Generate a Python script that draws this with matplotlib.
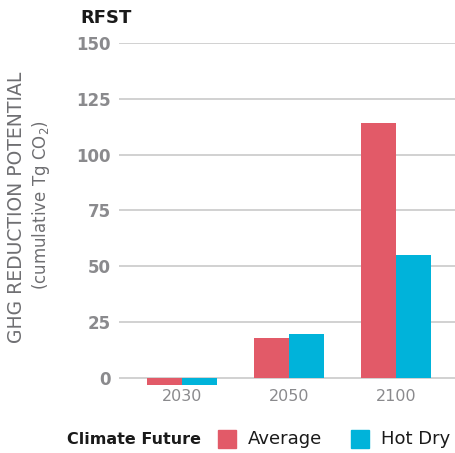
import matplotlib.pyplot as plt
import numpy as np
from matplotlib.patches import Rectangle

years = ["2030", "2050", "2100"]
average = [-3, 18, 114]
hot_dry = [-3, 19.5, 55]
yticks = [0, 25, 50, 75, 100, 125, 150]

red = "#E25A68"
cyan = "#00B3DA"
grey = "#8A8A8D"

fig = plt.figure(figsize=(4.56, 4.53), dpi=100)
ax = fig.add_axes([0.261, 0.141, 0.739, 0.764])

x = np.arange(len(years))
w = 0.33
ax.bar(x - w / 2, average, w, color=red, zorder=3)
ax.bar(x + w / 2, hot_dry, w, color=cyan, zorder=3)

ax.set_ylim(-5, 150)
ax.set_xlim(-0.59, 2.56)
ax.set_yticks(yticks)
ax.set_yticklabels([str(v) for v in yticks], color=grey, fontsize=12, fontweight="bold")
ax.set_xticks(x)
ax.set_xticklabels(years, color=grey, fontsize=11.5)
ax.tick_params(axis="both", length=0)
ax.tick_params(axis="y", pad=6)
ax.tick_params(axis="x", pad=0)
ax.grid(axis="y", color="#C9C9C9", linewidth=1.2, zorder=0)
for s in ax.spines.values():
    s.set_visible(False)

# title and axis label
fig.text(80 / 456, 1 - 18 / 453, "RFST", fontsize=13, fontweight="bold",
         color="#1a1a1a", va="center", ha="left")
fig.text(17 / 456, 1 - 207 / 453, "GHG REDUCTION POTENTIAL", rotation=90,
         fontsize=13.5, color="#6f6f72", va="center", ha="center")
fig.text(41 / 456, 1 - 205 / 453, "(cumulative Tg CO$_2$)", rotation=90,
         fontsize=12, color="#6f6f72", va="center", ha="center")

# legend at bottom
ly = 1 - 439 / 453
fig.text(67 / 456, ly, "Climate Future", fontsize=11.5, fontweight="bold",
         color="#1a1a1a", va="center", ha="left")
sq = 18 / 456
fig.patches.append(Rectangle((218 / 456, ly - 9 / 453), sq, 18 / 453,
                             color=red, transform=fig.transFigure))
fig.text(248 / 456, ly, "Average", fontsize=13, color="#1a1a1a", va="center", ha="left")
fig.patches.append(Rectangle((351 / 456, ly - 9 / 453), sq, 18 / 453,
                             color=cyan, transform=fig.transFigure))
fig.text(381 / 456, ly, "Hot Dry", fontsize=13, color="#1a1a1a", va="center", ha="left")

fig.savefig("out.png", dpi=100)
